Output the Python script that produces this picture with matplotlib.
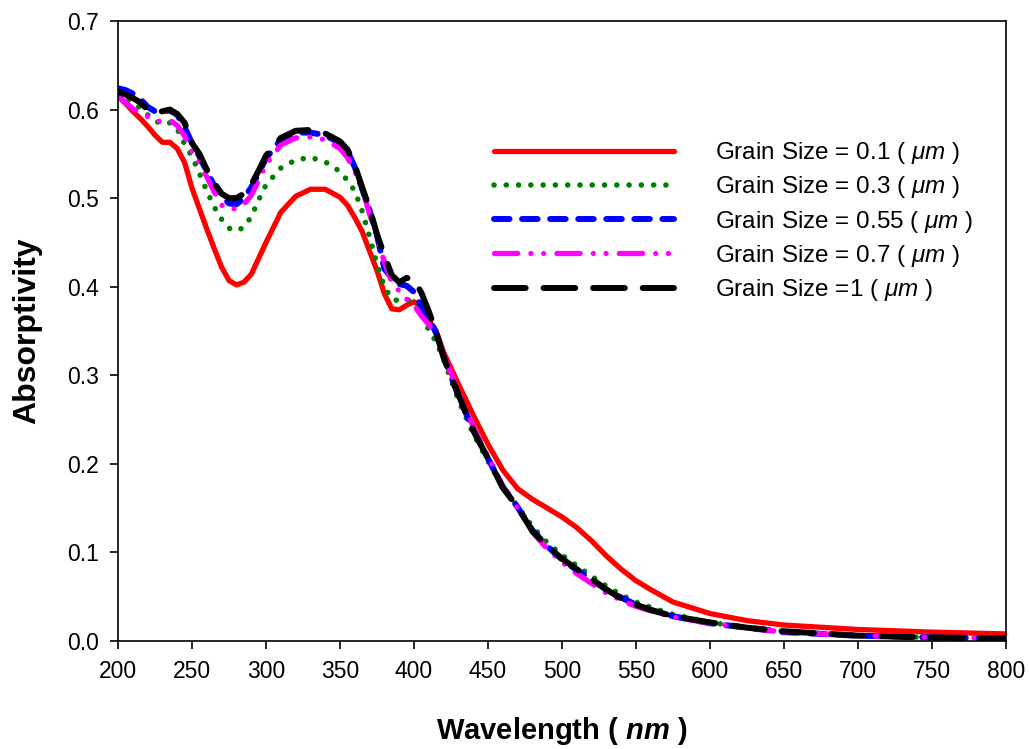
import matplotlib
matplotlib.use('Agg')
import matplotlib.pyplot as plt

plt.rcParams['font.family'] = ['Liberation Sans', 'DejaVu Sans']
plt.rcParams['mathtext.fontset'] = 'custom'
plt.rcParams['mathtext.rm'] = 'Liberation Sans'
plt.rcParams['mathtext.it'] = 'Liberation Sans:italic'
plt.rcParams['mathtext.bf'] = 'Liberation Sans:bold'
plt.rcParams['mathtext.bfit'] = 'Liberation Sans:italic:bold'

# wavelength (nm)
wl = [200, 205, 210, 215, 220, 225, 230, 235, 240, 245, 250, 255, 260, 265, 270,
      275, 280, 285, 290, 295, 300, 310, 320, 330, 340, 350, 355, 360, 365, 370,
      375, 380, 385, 390, 395, 400, 405, 410, 415, 420, 430, 440, 450, 460, 470,
      480, 490, 500, 510, 520, 530, 540, 550, 560, 575, 600, 625, 650, 700, 750, 800]

# absorptivity per grain size
gs_01 = [0.615, 0.607, 0.598, 0.590, 0.581, 0.571, 0.563, 0.563, 0.556, 0.540, 0.511,
         0.488, 0.465, 0.443, 0.422, 0.407, 0.402, 0.405, 0.414, 0.432, 0.450, 0.484,
         0.502, 0.510, 0.510, 0.501, 0.492, 0.478, 0.462, 0.440, 0.418, 0.392, 0.375,
         0.374, 0.379, 0.383, 0.378, 0.362, 0.350, 0.326, 0.290, 0.255, 0.222, 0.193,
         0.172, 0.160, 0.150, 0.140, 0.128, 0.113, 0.096, 0.081, 0.068, 0.058, 0.044,
         0.031, 0.023, 0.018, 0.013, 0.010, 0.008]
gs_03 = [0.618, 0.613, 0.608, 0.602, 0.594, 0.587, 0.584, 0.585, 0.578, 0.561, 0.547,
         0.528, 0.508, 0.490, 0.476, 0.466, 0.463, 0.467, 0.479, 0.498, 0.515, 0.534,
         0.543, 0.546, 0.541, 0.530, 0.520, 0.508, 0.485, 0.456, 0.425, 0.400, 0.386,
         0.384, 0.385, 0.384, 0.375, 0.350, 0.338, 0.318, 0.272, 0.234, 0.203, 0.173,
         0.152, 0.129, 0.111, 0.097, 0.085, 0.073, 0.062, 0.052, 0.044, 0.038, 0.030,
         0.021, 0.015, 0.011, 0.006, 0.004, 0.003]
gs_055 = [0.624, 0.622, 0.618, 0.612, 0.603, 0.598, 0.598, 0.599, 0.594, 0.580, 0.562,
          0.547, 0.530, 0.514, 0.502, 0.494, 0.493, 0.500, 0.512, 0.528, 0.545, 0.566,
          0.574, 0.574, 0.571, 0.562, 0.553, 0.535, 0.510, 0.486, 0.458, 0.420, 0.410,
          0.403, 0.401, 0.394, 0.378, 0.366, 0.347, 0.321, 0.277, 0.238, 0.206, 0.174,
          0.151, 0.125, 0.107, 0.092, 0.080, 0.069, 0.058, 0.049, 0.041, 0.035, 0.028,
          0.020, 0.015, 0.010, 0.006, 0.004, 0.003]
gs_07 = [0.616, 0.608, 0.601, 0.596, 0.592, 0.588, 0.586, 0.588, 0.582, 0.570, 0.552,
         0.540, 0.524, 0.507, 0.492, 0.488, 0.488, 0.493, 0.503, 0.520, 0.538, 0.560,
         0.568, 0.569, 0.566, 0.556, 0.546, 0.530, 0.510, 0.482, 0.455, 0.428, 0.405,
         0.395, 0.386, 0.379, 0.367, 0.357, 0.345, 0.323, 0.282, 0.242, 0.208, 0.175,
         0.150, 0.123, 0.104, 0.089, 0.076, 0.065, 0.054, 0.046, 0.039, 0.034, 0.027,
         0.020, 0.015, 0.010, 0.006, 0.004, 0.003]
gs_1 = [0.620, 0.617, 0.613, 0.608, 0.600, 0.597, 0.598, 0.600, 0.595, 0.585, 0.562,
        0.550, 0.532, 0.517, 0.505, 0.500, 0.500, 0.505, 0.515, 0.531, 0.548, 0.568,
        0.576, 0.577, 0.573, 0.564, 0.555, 0.537, 0.512, 0.488, 0.459, 0.435, 0.413,
        0.405, 0.410, 0.408, 0.393, 0.372, 0.348, 0.320, 0.278, 0.238, 0.206, 0.173,
        0.151, 0.124, 0.107, 0.093, 0.081, 0.070, 0.058, 0.048, 0.041, 0.035, 0.028,
        0.021, 0.015, 0.011, 0.006, 0.004, 0.003]

labels = ['Grain Size = 0.1 ( $\\mu m$ )', 'Grain Size = 0.3 ( $\\mu m$ )',
          'Grain Size = 0.55 ( $\\mu m$ )', 'Grain Size = 0.7 ( $\\mu m$ )',
          'Grain Size =1 ( $\\mu m$ )']

fig = plt.figure(figsize=(10.3, 7.49), dpi=100)
ax = fig.add_axes([0.1146, 0.1442, 0.8621, 0.8278])

ax.plot(wl, gs_01, color='#ff0000', lw=3.8, solid_capstyle='round', label=labels[0])
ax.plot(wl, gs_03, color='#007f00', lw=4.0, linestyle=(0, (0.01, 2.2)),
        dash_capstyle='round', label=labels[1])
ax.plot(wl, gs_055, color='#0000ff', lw=4.3, linestyle=(0, (2.6, 2.1)),
        dash_capstyle='round', label=labels[2])
ax.plot(wl, gs_07, color='#ff00ff', lw=3.8, linestyle=(0, (4.4, 2.5, 0.01, 2.4, 0.01, 2.5)),
        dash_capstyle='round', label=labels[3])
ax.plot(wl, gs_1, color='black', lw=4.3, linestyle=(0, (5.3, 3.0)),
        dash_capstyle='round', label=labels[4])

ax.set_xlim(200, 800)
ax.set_ylim(0, 0.7)
ax.set_xticks(range(200, 801, 50))
ax.set_yticks([i / 10 for i in range(8)])
ax.set_yticklabels(['%.1f' % (i / 10) for i in range(8)])
ax.tick_params(direction='out', length=5.5, width=1.2, labelsize=16.5, pad=8,
               top=False, right=False)
for s in ax.spines.values():
    s.set_linewidth(1.2)

ax.set_xlabel('Wavelength ( $\\mathbfit{nm}$ )', fontsize=21, fontweight='bold', labelpad=23)
ax.set_ylabel('Absorptivity', fontsize=23, fontweight='bold', labelpad=18)

ax.legend(loc='upper left', bbox_to_anchor=(0.399, 0.843), frameon=False, fontsize=17.5,
          handlelength=7.4, handletextpad=1.7, labelspacing=0.34)

fig.savefig('out.png', dpi=100)
